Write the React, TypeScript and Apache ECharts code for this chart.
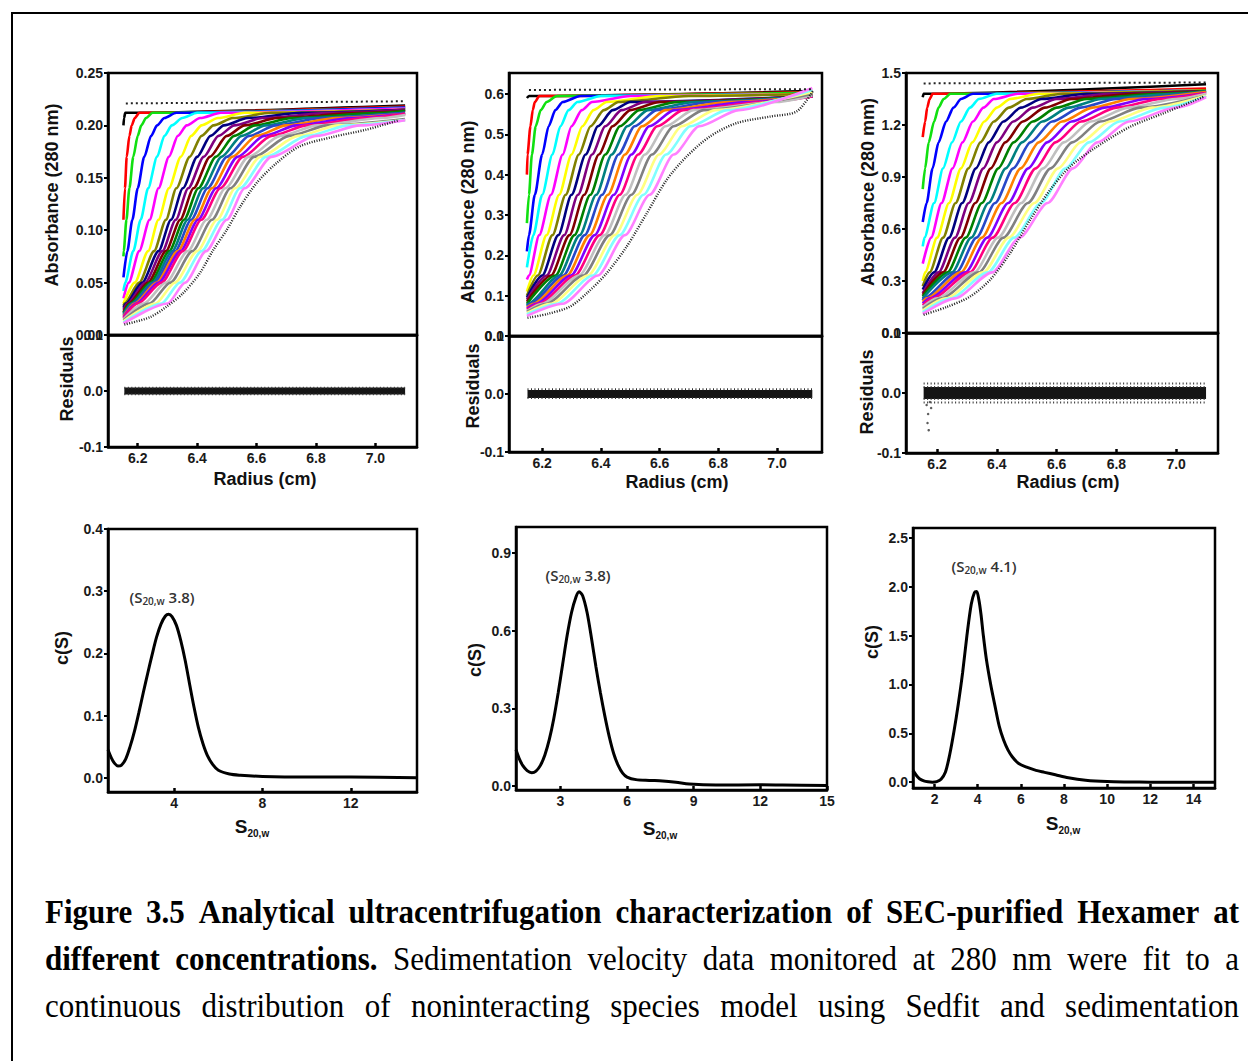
import React, { useEffect, useRef } from "react";
import * as echarts from "echarts";

const _ = null;

// Origin-style scan colours (first scan black ... last light magenta)
const SCAN_COLORS = ["#000000", "#FF0000", "#10E010", "#0000FF", "#00FFFF", "#FF00FF", "#FFFF00", "#808000", "#000080", "#800080", "#800000", "#008000", "#008080", "#2848C8", "#FF8000", "#8000FF", "#FF0080", "#C0C0C0", "#808080", "#FFFF80", "#80FFFF", "#FF80FF"];

// ---------- Panel A (low concentration) ----------
const A_RADIUS = [6.152, 7.1];
const A_LEVELS = [0.03, 0.05, 0.08, 0.11, 0.14, 0.17, 0.19, 0.2, 0.207, 0.212];
const A_START = [0.2, 0.11, 0.075, 0.055, 0.042, 0.035, 0.03, 0.028, 0.026, 0.024, 0.022, 0.021, 0.02, 0.019, 0.018, 0.017, 0.016, 0.015, 0.014, 0.013, 0.012, 0.011];
const A_END = [0.219, 0.218, 0.217, 0.217, 0.216, 0.216, 0.215, 0.215, 0.215, 0.215, 0.214, 0.214, 0.212, 0.212, 0.211, 0.211, 0.211, 0.21, 0.206, 0.205, 0.205, 0.205];
const A_CROSS = [
  [_, _, _, _, _, _, _, _, 6.154, 6.158],
  [_, _, _, _, 6.157, 6.163, 6.172, 6.18, 6.19, 6.205],
  [_, _, 6.153, 6.162, 6.172, 6.185, 6.2, 6.212, 6.228, 6.25],
  [_, _, 6.165, 6.182, 6.2, 6.222, 6.245, 6.265, 6.29, 6.33],
  [_, 6.158, 6.185, 6.21, 6.235, 6.265, 6.29, 6.315, 6.35, 6.4],
  [_, 6.17, 6.205, 6.24, 6.27, 6.305, 6.335, 6.365, 6.41, 6.48],
  [_, 6.19, 6.235, 6.27, 6.305, 6.345, 6.38, 6.415, 6.47, 6.56],
  [6.155, 6.205, 6.255, 6.295, 6.33, 6.375, 6.415, 6.455, 6.52, 6.65],
  [6.16, 6.215, 6.27, 6.312, 6.352, 6.4, 6.445, 6.49, 6.57, 6.75],
  [6.165, 6.225, 6.283, 6.328, 6.37, 6.422, 6.472, 6.525, 6.62, 6.85],
  [6.17, 6.235, 6.295, 6.343, 6.388, 6.443, 6.5, 6.56, 6.67, 6.95],
  [6.175, 6.243, 6.306, 6.356, 6.404, 6.463, 6.525, 6.595, 6.72, 7.02],
  [6.18, 6.25, 6.316, 6.368, 6.42, 6.482, 6.55, 6.63, 6.77, _],
  [6.185, 6.257, 6.326, 6.38, 6.435, 6.5, 6.575, 6.665, 6.82, _],
  [6.19, 6.264, 6.335, 6.392, 6.45, 6.518, 6.6, 6.7, 6.87, _],
  [6.195, 6.27, 6.344, 6.403, 6.464, 6.536, 6.625, 6.735, 6.92, _],
  [6.2, 6.28, 6.352, 6.414, 6.478, 6.554, 6.65, 6.77, 6.97, _],
  [6.22, 6.295, 6.368, 6.432, 6.495, 6.573, 6.68, 6.805, 7.02, _],
  [6.24, 6.31, 6.384, 6.45, 6.512, 6.592, 6.71, 6.84, _, _],
  [6.26, 6.325, 6.4, 6.467, 6.528, 6.612, 6.74, 6.875, _, _],
  [6.28, 6.342, 6.415, 6.484, 6.544, 6.632, 6.77, 6.91, _, _],
  [6.3, 6.36, 6.43, 6.5, 6.56, 6.65, 6.8, 6.95, _, _],
];
const A_EDGE = [[6.155, 0.01], [6.241, 0.017], [6.297, 0.027], [6.353, 0.04], [6.409, 0.059], [6.454, 0.081], [6.499, 0.1], [6.544, 0.122], [6.6, 0.145], [6.667, 0.164], [6.745, 0.18], [6.857, 0.189], [6.97, 0.196], [7.08, 0.205]];
const A_TOP = [[6.16, 0.221], [7.1, 0.223]];

// ---------- Panel B (middle concentration) ----------
const B_RADIUS = [6.148, 7.12];
const B_LEVELS = [0.08, 0.15, 0.25, 0.35, 0.45, 0.52, 0.56, 0.58, 0.595];
const B_START = [0.59, 0.4, 0.28, 0.21, 0.17, 0.14, 0.11, 0.1, 0.095, 0.09, 0.085, 0.08, 0.077, 0.074, 0.071, 0.068, 0.065, 0.062, 0.06, 0.057, 0.054, 0.05];
const B_END = [0.607, 0.605, 0.603, 0.6, 0.6, 0.6, 0.6, 0.6, 0.594, 0.594, 0.594, 0.594, 0.594, 0.594, 0.594, 0.594, 0.594, 0.596, 0.6, 0.605, 0.61, 0.615];
const B_CROSS = [
  [_, _, _, _, _, _, _, _, 6.155],
  [_, _, _, _, 6.15, 6.16, 6.168, 6.175, 6.19],
  [_, _, _, 6.155, 6.165, 6.178, 6.195, 6.215, 6.25],
  [_, _, 6.155, 6.175, 6.2, 6.222, 6.245, 6.27, 6.33],
  [_, _, 6.17, 6.2, 6.235, 6.262, 6.29, 6.32, 6.4],
  [_, 6.155, 6.19, 6.23, 6.27, 6.3, 6.335, 6.37, 6.5],
  [_, 6.17, 6.215, 6.258, 6.3, 6.337, 6.375, 6.42, 6.6],
  [_, 6.185, 6.235, 6.28, 6.325, 6.365, 6.41, 6.46, 6.7],
  [_, 6.2, 6.255, 6.3, 6.348, 6.39, 6.44, 6.5, _],
  [_, 6.215, 6.275, 6.322, 6.37, 6.415, 6.47, 6.55, _],
  [_, 6.23, 6.293, 6.343, 6.393, 6.44, 6.5, 6.6, _],
  [_, 6.245, 6.31, 6.364, 6.415, 6.465, 6.53, 6.66, _],
  [6.152, 6.258, 6.328, 6.384, 6.437, 6.49, 6.56, 6.72, _],
  [6.16, 6.272, 6.345, 6.404, 6.46, 6.515, 6.59, 6.78, _],
  [6.17, 6.285, 6.362, 6.424, 6.482, 6.54, 6.62, 6.84, _],
  [6.18, 6.298, 6.379, 6.444, 6.504, 6.565, 6.65, 6.9, _],
  [6.19, 6.312, 6.396, 6.464, 6.527, 6.592, 6.68, 6.96, _],
  [6.2, 6.326, 6.413, 6.484, 6.55, 6.62, 6.715, 7.0, _],
  [6.215, 6.34, 6.43, 6.504, 6.574, 6.648, 6.75, _, _],
  [6.23, 6.356, 6.447, 6.524, 6.598, 6.676, 6.79, _, _],
  [6.25, 6.372, 6.464, 6.545, 6.622, 6.705, 6.83, _, _],
  [6.27, 6.39, 6.482, 6.566, 6.648, 6.735, 6.87, _, _],
];
const B_EDGE = [[6.15, 0.045], [6.22, 0.055], [6.295, 0.073], [6.352, 0.106], [6.42, 0.156], [6.488, 0.222], [6.556, 0.304], [6.624, 0.387], [6.692, 0.445], [6.772, 0.495], [6.863, 0.528], [6.976, 0.544], [7.067, 0.557], [7.124, 0.61]];
const B_TOP = [[6.155, 0.61], [7.12, 0.612]];

// ---------- Panel C (high concentration) ----------
const C_RADIUS = [6.152, 7.1];
const C_LEVELS = [0.2, 0.35, 0.55, 0.75, 0.95, 1.1, 1.22, 1.3, 1.35, 1.38];
const C_START = [1.36, 1.13, 0.83, 0.64, 0.5, 0.4, 0.3, 0.27, 0.25, 0.23, 0.22, 0.21, 0.2, 0.19, 0.18, 0.17, 0.16, 0.15, 0.14, 0.13, 0.12, 0.11];
const C_END = [1.435, 1.41, 1.4, 1.4, 1.4, 1.4, 1.4, 1.4, 1.395, 1.395, 1.395, 1.395, 1.395, 1.39, 1.39, 1.385, 1.385, 1.38, 1.37, 1.37, 1.365, 1.36];
const C_CROSS = [
  [_, _, _, _, _, _, _, _, _, 6.155],
  [_, _, _, _, _, _, 6.16, 6.167, 6.175, 6.185],
  [_, _, _, _, 6.16, 6.172, 6.19, 6.205, 6.222, 6.245],
  [_, _, _, 6.165, 6.185, 6.205, 6.23, 6.255, 6.28, 6.32],
  [_, _, 6.158, 6.19, 6.22, 6.25, 6.28, 6.31, 6.34, 6.4],
  [_, _, 6.18, 6.215, 6.252, 6.285, 6.32, 6.355, 6.39, 6.47],
  [_, 6.16, 6.2, 6.24, 6.28, 6.318, 6.358, 6.4, 6.445, 6.54],
  [_, 6.175, 6.22, 6.262, 6.305, 6.345, 6.39, 6.44, 6.5, 6.62],
  [_, 6.19, 6.24, 6.284, 6.33, 6.373, 6.422, 6.48, 6.55, 6.7],
  [_, 6.205, 6.26, 6.306, 6.355, 6.4, 6.455, 6.52, 6.6, 6.78],
  [_, 6.22, 6.278, 6.328, 6.38, 6.428, 6.487, 6.56, 6.65, 6.86],
  [_, 6.235, 6.296, 6.35, 6.405, 6.456, 6.52, 6.6, 6.7, 6.94],
  [_, 6.25, 6.314, 6.372, 6.43, 6.484, 6.552, 6.64, 6.75, 7.0],
  [6.155, 6.265, 6.332, 6.394, 6.455, 6.512, 6.585, 6.68, 6.8, _],
  [6.165, 6.28, 6.35, 6.416, 6.48, 6.54, 6.618, 6.72, 6.85, _],
  [6.175, 6.295, 6.368, 6.438, 6.505, 6.568, 6.65, 6.76, 6.9, _],
  [6.185, 6.31, 6.386, 6.46, 6.53, 6.596, 6.682, 6.8, 6.95, _],
  [6.2, 6.325, 6.404, 6.482, 6.555, 6.624, 6.714, 6.84, 7.0, _],
  [6.215, 6.34, 6.422, 6.504, 6.58, 6.652, 6.746, 6.88, _, _],
  [6.23, 6.355, 6.44, 6.526, 6.605, 6.68, 6.778, 6.92, _, _],
  [6.245, 6.37, 6.458, 6.548, 6.63, 6.708, 6.81, 6.96, _, _],
  [6.26, 6.385, 6.476, 6.57, 6.655, 6.736, 6.842, 7.0, _, _],
];
const C_EDGE = [[6.155, 0.105], [6.232, 0.15], [6.31, 0.21], [6.377, 0.306], [6.444, 0.46], [6.511, 0.652], [6.578, 0.825], [6.645, 0.96], [6.735, 1.075], [6.846, 1.19], [6.958, 1.268], [7.092, 1.363]];
const C_TOP = [[6.155, 1.44], [7.1, 1.445]];

// ---------- Residuals ----------
const RES_A = [[6.155, 0], [7.1, 0]];
const RES_B = [[6.15, 0], [7.12, 0]];
const RES_C = [[6.155, 0], [7.1, 0]];
const RES_A_SPREAD = [0.006, -0.006];
const RES_B_SPREAD = [0.008, -0.007];
const RES_C_SPREAD = [0.016, 0.01, -0.01, -0.016];
const RES_C_OUTLIERS = [[6.165, -0.02], [6.17, -0.035], [6.168, -0.05], [6.172, -0.062], [6.18, -0.025], [6.176, -0.015]];

// ---------- c(S) distributions ----------
const CS_A = [[1.0, 0.045], [1.15, 0.032], [1.3, 0.023], [1.45, 0.019], [1.6, 0.02], [1.8, 0.03], [2.0, 0.05], [2.2, 0.075], [2.4, 0.105], [2.6, 0.137], [2.8, 0.168], [3.0, 0.198], [3.2, 0.226], [3.4, 0.247], [3.6, 0.26], [3.75, 0.263], [3.9, 0.259], [4.1, 0.245], [4.3, 0.22], [4.5, 0.188], [4.7, 0.15], [4.9, 0.113], [5.1, 0.08], [5.3, 0.055], [5.5, 0.036], [5.75, 0.021], [6.0, 0.012], [6.5, 0.006], [7, 0.004], [8, 0.002], [10, 0.001], [12, 0.001], [15, 0.0]];
const CS_B = [[1.0, 0.14], [1.15, 0.105], [1.3, 0.08], [1.5, 0.06], [1.71, 0.052], [1.9, 0.058], [2.1, 0.08], [2.3, 0.12], [2.5, 0.18], [2.7, 0.26], [2.9, 0.36], [3.1, 0.47], [3.3, 0.58], [3.5, 0.67], [3.7, 0.73], [3.84, 0.75], [4.0, 0.735], [4.2, 0.67], [4.4, 0.57], [4.6, 0.46], [4.8, 0.36], [5.0, 0.27], [5.2, 0.19], [5.4, 0.125], [5.6, 0.08], [5.8, 0.05], [6.0, 0.035], [6.4, 0.025], [7.0, 0.022], [7.6, 0.02], [8.2, 0.015], [8.8, 0.008], [10, 0.004], [12, 0.005], [13, 0.004], [15, 0.002]];
const CS_C = [[1.0, 0.12], [1.15, 0.07], [1.3, 0.035], [1.5, 0.012], [1.7, 0.003], [1.9, 0.0], [2.1, 0.005], [2.3, 0.03], [2.5, 0.1], [2.7, 0.28], [2.9, 0.52], [3.1, 0.8], [3.3, 1.12], [3.5, 1.5], [3.7, 1.82], [3.85, 1.94], [3.95, 1.95], [4.05, 1.87], [4.15, 1.72], [4.25, 1.52], [4.4, 1.26], [4.6, 1.0], [4.8, 0.78], [5.0, 0.57], [5.2, 0.43], [5.4, 0.33], [5.6, 0.26], [5.9, 0.19], [6.3, 0.15], [6.7, 0.12], [7.1, 0.1], [7.6, 0.075], [8.2, 0.045], [9, 0.02], [10, 0.006], [11, 0.002], [12, 0.0], [15, 0.0]];

// ---------- tick values ----------
const RADIUS_TICKS = [6.2, 6.4, 6.6, 6.8, 7.0];
const A_YTICKS = [0, 0.05, 0.1, 0.15, 0.2, 0.25];
const B_YTICKS = [0, 0.1, 0.2, 0.3, 0.4, 0.5, 0.6];
const C_YTICKS = [0, 0.3, 0.6, 0.9, 1.2, 1.5];
const RES_TICKS = [-0.1, 0, 0.1];
const CSA_XTICKS = [4, 8, 12];
const CSB_XTICKS = [3, 6, 9, 12, 15];
const CSC_XTICKS = [2, 4, 6, 8, 10, 12, 14];
const CSA_YTICKS = [0, 0.1, 0.2, 0.3, 0.4];
const CSB_YTICKS = [0, 0.3, 0.6, 0.9];
const CSC_YTICKS = [0, 0.5, 1.0, 1.5, 2.0, 2.5];

const CAPTION_LINES: [string, boolean][][] = [
  [["Figure 3.5 Analytical ultracentrifugation characterization of SEC-purified Hexamer at", true]],
  [["different concentrations.", true], ["Sedimentation velocity data monitored at 280 nm were fit to a", false]],
  [["continuous distribution of noninteracting species model using Sedfit and sedimentation", false]],
];
const CAPTION_Y = [911, 958, 1005];

type F = { family: string; size: number; weight: string };
const SANS = "Liberation Sans";
const SERIF = "Liberation Serif";

let measureCtx: CanvasRenderingContext2D | null = null;
function measure(text: string, f: F) {
  if (!measureCtx) measureCtx = document.createElement("canvas").getContext("2d");
  measureCtx!.font = `${f.weight} ${f.size}px "${f.family}"`;
  return measureCtx!.measureText(text).width;
}

function buildCurve(r: number[], start: number, cross: (number | null)[], levels: number[], end: number) {
  const pts: number[][] = [[r[0], start]];
  cross.forEach((x, i) => {
    if (x != null) pts.push([x, levels[i]]);
  });
  pts.push([r[1], end]);
  return pts;
}

const LABEL_STYLE = { fontFamily: SANS, fontWeight: "bold" as const, fontSize: 14, color: "#1a1a1a" };
const AXLINE = { show: true, onZero: false, lineStyle: { color: "#000", width: 2.5 } };

function xAx(gridIndex: number, min: number, max: number, ticks: number[] | null, dec: number) {
  return {
    type: "value", gridIndex, min, max,
    axisLine: AXLINE, splitLine: { show: false },
    axisTick: ticks ? { show: true, inside: true, length: 4, lineStyle: { color: "#000", width: 2.5 }, customValues: ticks } : { show: false },
    axisLabel: ticks ? { show: true, margin: 4, customValues: ticks, formatter: (v: number) => v.toFixed(dec), ...LABEL_STYLE } : { show: false },
  };
}
function yAx(gridIndex: number, min: number, max: number, ticks: number[], dec: number) {
  return {
    type: "value", gridIndex, min, max,
    axisLine: AXLINE, splitLine: { show: false },
    axisTick: { show: true, inside: false, length: 4, lineStyle: { color: "#000", width: 2 }, customValues: ticks },
    axisLabel: { show: true, margin: 5, customValues: ticks, formatter: (v: number) => v.toFixed(dec), ...LABEL_STYLE },
  };
}

function txt(x: number, y: number, text: string, f: F, opts: any = {}) {
  const align = opts.align || "center";
  return {
    type: "text", x, y, rotation: opts.rot || 0, scaleY: opts.scaleY || 1, silent: true, z: 50,
    style: {
      text, fontFamily: f.family, fontSize: f.size, fontWeight: f.weight,
      fill: opts.fill || "#111", textAlign: align, align, textVerticalAlign: "middle", verticalAlign: "middle",
    },
  };
}

function composite(cx: number, cy: number, parts: [string, F, number][], fill: string) {
  const widths = parts.map(([t, f]) => measure(t, f));
  const total = widths.reduce((a, b) => a + b, 0);
  let x = cx - total / 2;
  return parts.map(([t, f, dy], i) => {
    const el = txt(x, cy + dy, t, f, { align: "left", fill });
    x += widths[i];
    return el;
  });
}

function captionElements() {
  const els: any[] = [];
  const XL = 45, XR = 1239, SIZE = 31;
  CAPTION_LINES.forEach((segs, li) => {
    const words: { w: string; b: boolean }[] = [];
    segs.forEach(([t, b]) => t.split(" ").forEach((w) => words.push({ w, b })));
    const fonts: F[] = words.map((o) => ({ family: SERIF, size: SIZE, weight: o.b ? "bold" : "normal" }));
    const widths = words.map((o, i) => measure(o.w, fonts[i]));
    const total = widths.reduce((a, b) => a + b, 0);
    const gap = (XR - XL - total) / (words.length - 1);
    let x = XL;
    words.forEach((o, i) => {
      els.push(txt(x, CAPTION_Y[li], o.w, fonts[i], { align: "left", fill: "#000", scaleY: 1.1 }));
      x += widths[i] + gap;
    });
  });
  return els;
}

function scanSeries(xi: number, r: number[], levels: number[], starts: number[], ends: number[], cross: (number | null)[][], edge: number[][], top: number[][]) {
  const out: any[] = [];
  cross.forEach((c, k) => {
    out.push({
      type: "line", xAxisIndex: xi, yAxisIndex: xi, data: buildCurve(r, starts[k], c, levels, ends[k]),
      showSymbol: false, symbol: "none", smooth: 0.25, smoothMonotone: "x", silent: true,
      lineStyle: { color: SCAN_COLORS[k % SCAN_COLORS.length], width: 2.6 }, z: 2,
    });
  });
  out.push({ type: "line", xAxisIndex: xi, yAxisIndex: xi, data: edge, showSymbol: false, symbol: "none", smooth: 0.3, silent: true, lineStyle: { color: "#222", width: 2.4, type: [1, 1.5] }, z: 3 });
  out.push({ type: "line", xAxisIndex: xi, yAxisIndex: xi, data: top, showSymbol: false, symbol: "none", silent: true, lineStyle: { color: "#222", width: 2, type: [2, 3] }, z: 3 });
  return out;
}

function resSeries(xi: number, data: number[][], width: number, spread: number[]) {
  const out: any[] = [
    { type: "line", xAxisIndex: xi, yAxisIndex: xi, data, showSymbol: false, symbol: "none", silent: true, lineStyle: { color: "#151515", width, cap: "butt" }, z: 3 },
  ];
  spread.forEach((d) => {
    out.push({
      type: "line", xAxisIndex: xi, yAxisIndex: xi, data: data.map((p) => [p[0], d]), showSymbol: false, symbol: "none", silent: true,
      lineStyle: { color: "#333", width: 2, type: [1, 2.5], cap: "butt" }, z: 3,
    });
  });
  return out;
}

function csSeries(xi: number, data: number[][]) {
  return { type: "line", xAxisIndex: xi, yAxisIndex: xi, data, showSymbol: false, symbol: "none", smooth: 0.3, silent: true, lineStyle: { color: "#000", width: 3 }, z: 3 };
}

export default function App() {
  const ref = useRef<HTMLDivElement>(null);
  useEffect(() => {
    if (!ref.current) return;
    const chart = echarts.init(ref.current, null, { renderer: "svg", width: 1248, height: 1061 });
    const gridBase = { show: true, borderColor: "#000", borderWidth: 2.5, backgroundColor: "transparent", containLabel: false };
    const grids = [
      { left: 108, top: 73, width: 309, height: 262 },
      { left: 108, top: 335, width: 309, height: 112 },
      { left: 509, top: 73, width: 313, height: 263 },
      { left: 509, top: 336, width: 313, height: 116 },
      { left: 906, top: 73, width: 312, height: 260 },
      { left: 906, top: 333, width: 312, height: 120 },
      { left: 108, top: 529, width: 309, height: 263 },
      { left: 516, top: 527, width: 311, height: 263 },
      { left: 913, top: 528, width: 302, height: 260 },
    ].map((g) => ({ ...gridBase, ...g }));

    const xAxis = [
      xAx(0, 6.1, 7.14, null, 1),
      xAx(1, 6.1, 7.14, RADIUS_TICKS, 1),
      xAx(2, 6.087, 7.153, null, 1),
      xAx(3, 6.087, 7.153, RADIUS_TICKS, 1),
      xAx(4, 6.096, 7.14, null, 1),
      xAx(5, 6.096, 7.14, RADIUS_TICKS, 1),
      xAx(6, 1, 15, CSA_XTICKS, 0),
      xAx(7, 1, 15, CSB_XTICKS, 0),
      xAx(8, 1, 15, CSC_XTICKS, 0),
    ];
    const yAxis = [
      yAx(0, 0, 0.25, A_YTICKS, 2),
      yAx(1, -0.1, 0.1, RES_TICKS, 1),
      yAx(2, 0, 0.652, B_YTICKS, 1),
      yAx(3, -0.1, 0.1, RES_TICKS, 1),
      yAx(4, 0, 1.5, C_YTICKS, 1),
      yAx(5, -0.1, 0.1, RES_TICKS, 1),
      yAx(6, -0.023, 0.4, CSA_YTICKS, 1),
      yAx(7, -0.015, 1.0, CSB_YTICKS, 1),
      yAx(8, -0.06, 2.6, CSC_YTICKS, 1),
    ];

    const series: any[] = [
      ...scanSeries(0, A_RADIUS, A_LEVELS, A_START, A_END, A_CROSS, A_EDGE, A_TOP),
      ...scanSeries(2, B_RADIUS, B_LEVELS, B_START, B_END, B_CROSS, B_EDGE, B_TOP),
      ...scanSeries(4, C_RADIUS, C_LEVELS, C_START, C_END, C_CROSS, C_EDGE, C_TOP),
      ...resSeries(1, RES_A, 7, RES_A_SPREAD),
      ...resSeries(3, RES_B, 8, RES_B_SPREAD),
      ...resSeries(5, RES_C, 12, RES_C_SPREAD),
      { type: "scatter", xAxisIndex: 5, yAxisIndex: 5, data: RES_C_OUTLIERS, symbolSize: 2.5, silent: true, itemStyle: { color: "#333" }, z: 3 },
      csSeries(6, CS_A),
      csSeries(7, CS_B),
      csSeries(8, CS_C),
    ];

    const AX: F = { family: SANS, size: 18, weight: "bold" };
    const ANN: F = { family: "Open Sans", size: 15, weight: "600" };
    const ANN_SUB: F = { family: "Open Sans", size: 10, weight: "600" };
    const S_MAIN: F = { family: SANS, size: 19, weight: "bold" };
    const S_SUB: F = { family: SANS, size: 10, weight: "bold" };
    const graphic: any[] = [
      { type: "rect", shape: { x: 12, y: 13, width: 1260, height: 1080 }, style: { fill: "none", stroke: "#000", lineWidth: 2 }, silent: true, z: 100 },
      txt(52, 195, "Absorbance (280 nm)", AX, { rot: Math.PI / 2 }),
      txt(468, 212, "Absorbance (280 nm)", AX, { rot: Math.PI / 2 }),
      txt(868, 192, "Absorbance (280 mm)", AX, { rot: Math.PI / 2 }),
      txt(67, 379, "Residuals", AX, { rot: Math.PI / 2 }),
      txt(473, 386, "Residuals", AX, { rot: Math.PI / 2 }),
      txt(867, 392, "Residuals", AX, { rot: Math.PI / 2 }),
      txt(265, 479, "Radius (cm)", AX),
      txt(677, 482, "Radius (cm)", AX),
      txt(1068, 482, "Radius (cm)", AX),
      txt(62, 648, "c(S)", AX, { rot: Math.PI / 2 }),
      txt(475, 660, "c(S)", AX, { rot: Math.PI / 2 }),
      txt(872, 642, "c(S)", AX, { rot: Math.PI / 2 }),
      ...composite(252, 826, [["S", S_MAIN, 0], ["20,w", S_SUB, 7]], "#111"),
      ...composite(660, 828, [["S", S_MAIN, 0], ["20,w", S_SUB, 7]], "#111"),
      ...composite(1063, 823, [["S", S_MAIN, 0], ["20,w", S_SUB, 7]], "#111"),
      ...composite(162, 597, [["(S", ANN, 0], ["20,w", ANN_SUB, 4], [" 3.8)", ANN, 0]], "#333"),
      ...composite(578, 575, [["(S", ANN, 0], ["20,w", ANN_SUB, 4], [" 3.8)", ANN, 0]], "#333"),
      ...composite(984, 566, [["(S", ANN, 0], ["20,w", ANN_SUB, 4], [" 4.1)", ANN, 0]], "#333"),
      ...captionElements(),
    ];

    chart.setOption({
      animation: false,
      backgroundColor: "#fff",
      grid: grids,
      xAxis,
      yAxis,
      series,
      graphic,
    });
    return () => chart.dispose();
  }, []);
  return <div ref={ref} style={{ position: "absolute", left: 0, top: 0, width: 1248, height: 1061, background: "#fff" }} />;
}
